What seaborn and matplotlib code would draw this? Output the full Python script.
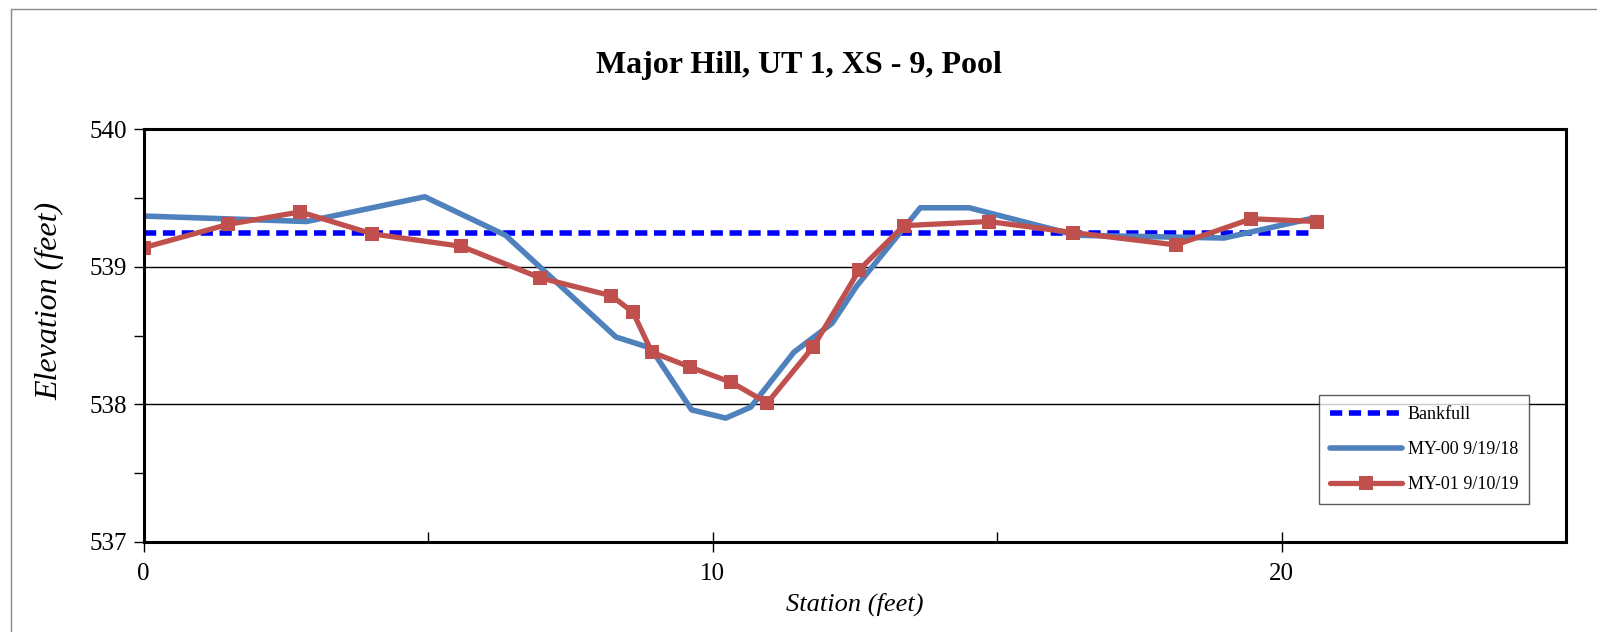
import numpy as np
import pandas as pd
import matplotlib
matplotlib.use("Agg")
import matplotlib.pyplot as plt
from matplotlib.lines import Line2D
import seaborn as sns

# values
bankfull_x = [0.0, 20.5]
bankfull_y = [539.25, 539.25]

my00_station = [0.0, 2.86, 4.94, 6.36, 8.30, 8.91, 9.63, 10.23, 10.67, 11.43,
                12.10, 12.53, 13.65, 14.51, 16.39, 18.99, 20.61]
my00_elev = [539.37, 539.33, 539.51, 539.23, 538.49, 538.41, 537.96, 537.90, 537.98, 538.38,
             538.59, 538.86, 539.43, 539.43, 539.23, 539.21, 539.36]

my01_station = [0.0, 1.49, 2.75, 4.02, 5.58, 6.97, 8.22, 8.60, 8.93, 9.61,
                10.33, 10.96, 11.77, 12.58, 13.36, 14.85, 16.33, 18.14, 19.47, 20.63]
my01_elev = [539.14, 539.31, 539.40, 539.24, 539.15, 538.92, 538.79, 538.67, 538.38, 538.27,
             538.16, 538.01, 538.42, 538.98, 539.30, 539.33, 539.25, 539.16, 539.35, 539.33]

title = "Major Hill, UT 1, XS - 9, Pool"
x_ticks = [0, 10, 20]
y_ticks = [537, 538, 539, 540]

sns.set_style("white")
plt.rcParams["font.family"] = ["Liberation Serif", "DejaVu Serif"]
plt.rcParams["text.color"] = "black"
plt.rcParams["axes.labelcolor"] = "black"
plt.rcParams["xtick.color"] = "black"
plt.rcParams["ytick.color"] = "black"

fig = plt.figure(figsize=(15.97, 6.32), dpi=100)
ax = fig.add_axes([0.09, 0.1427, 0.8906, 0.6525])

sns.lineplot(x=bankfull_x, y=bankfull_y, ax=ax, color="#0000FF", lw=4,
             linestyle=(0, (2.2, 1.2)), label="Bankfull", sort=False)
sns.lineplot(x=my00_station, y=my00_elev, ax=ax, color="#4F81BD", lw=4,
             label="MY-00 9/19/18", sort=False)
sns.lineplot(x=my01_station, y=my01_elev, ax=ax, color="#C0504D", lw=3.8,
             marker="s", markersize=10, markeredgewidth=0,
             label="MY-01 9/10/19", sort=False)

ax.set_xlim(0, 25)
ax.set_ylim(537, 540)
ax.set_xticks(x_ticks)
ax.set_xticks([5, 15, 25], minor=True)
ax.set_yticks(y_ticks)
ax.set_yticks([537.5, 538.5, 539.5], minor=True)
ax.set_yticklabels([str(v) for v in y_ticks])
ax.set_xticklabels([str(v) for v in x_ticks])
ax.grid(axis="y", which="major", color="black", lw=1)
ax.set_axisbelow(True)

for s in ax.spines.values():
    s.set_color("black")
    s.set_linewidth(2.2)

ax.tick_params(axis="x", which="major", direction="inout", length=14, width=1,
               labelsize=18, pad=8, bottom=True)
ax.tick_params(axis="x", which="minor", direction="in", length=7, width=1, bottom=True)
ax.tick_params(axis="y", which="both", direction="out", length=7, width=1,
               labelsize=18, pad=5, left=True)

ax.set_xlabel("Station (feet)", fontsize=19, style="italic", labelpad=6)
ax.set_ylabel("Elevation (feet)", fontsize=23, style="italic")
ax.yaxis.set_label_coords(-0.0555, 0.585)

fig.text(0.5, 0.897, title, ha="center", va="center", fontsize=23, fontweight="bold")

leg = ax.legend(loc="lower right", bbox_to_anchor=(0.974, 0.092), borderaxespad=0,
                fontsize=13, handlelength=4.0, labelspacing=1.0, fancybox=False,
                frameon=True, borderpad=0.6, handletextpad=0.3)
leg.get_frame().set_edgecolor("#333333")
leg.get_frame().set_linewidth(1)

# thin outer chart border (runs off the bottom/right of the image)
fig.add_artist(Line2D([11 / 1597, 11 / 1597], [0, 1 - 9 / 632], color="#888888", lw=1,
                      transform=fig.transFigure))
fig.add_artist(Line2D([11 / 1597, 1], [1 - 9 / 632, 1 - 9 / 632], color="#888888", lw=1,
                      transform=fig.transFigure))

fig.savefig("out.png", dpi=100)
